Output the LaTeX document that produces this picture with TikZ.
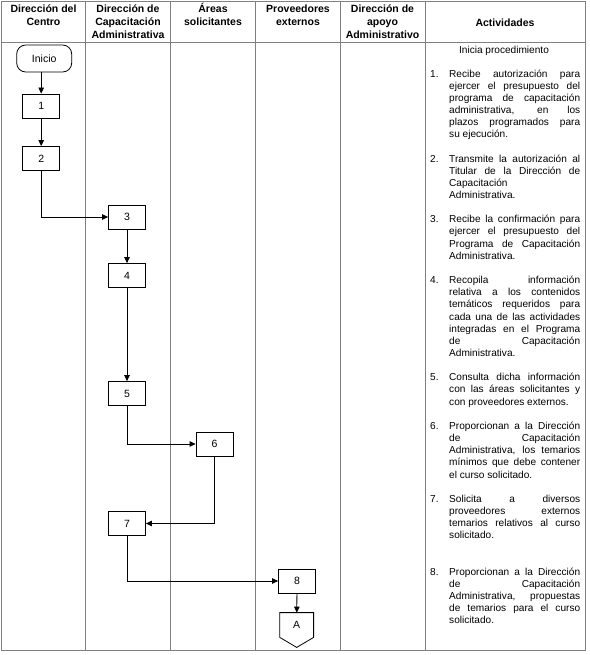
\documentclass[tikz,border=0pt]{standalone}
\usepackage{fontspec}
\setmainfont{Liberation Sans}
\usetikzlibrary{arrows.meta,calc}
\definecolor{rejilla}{RGB}{128,128,128}
\tolerance=10000
\hbadness=10000
\hfuzz=5pt

\begin{document}
\begin{tikzpicture}[x=1bp,y=-1bp,
    linea/.style={draw=rejilla,line width=0.9bp},
    hdr/.style={anchor=north,align=center,inner sep=0pt,font=\bfseries\fontsize{10.5bp}{12.8bp}\selectfont},
    caja/.style={draw,line width=0.8bp,minimum width=37bp,minimum height=24bp,inner sep=0pt,font=\fontsize{10.5bp}{12bp}\selectfont},
    inicio/.style={caja,rounded corners=9bp,minimum width=55bp,minimum height=27bp},
    conector/.style={caja,draw=none,minimum width=33bp},
    flecha/.style={line width=0.8bp,-{Triangle[length=6bp,width=5.5bp]}},
    act/.style={anchor=north west,inner sep=0pt,text width=150bp,align=justify,font=\fontsize{10.1bp}{12.15bp}\selectfont}]

    \useasboundingbox (0,0) rectangle (590,655);

    \draw[linea] (1.5,1) rectangle (585,650.5);
    \draw[linea] (1.5,42.7) -- (585,42.7);
    \foreach \x in {85.5,170.5,255.7,340,425} {
    \draw[linea] (\x,1) -- (\x,650.5);}

    \node[hdr] (hCentro) at (43.5,3.4) {\strut Dirección del\\Centro};
    \node[hdr] (hCapacitacion) at (128,3.4) {\strut Dirección de\\Capacitación\\Administrativa};
    \node[hdr] (hAreas) at (213,3.4) {\strut Áreas\\solicitantes};
    \node[hdr] (hProveedores) at (298,3.4) {\strut Proveedores\\externos};
    \node[hdr] (hApoyo) at (382.5,3.4) {\strut Dirección de\\apoyo\\Administrativo};
    \node[hdr,anchor=center] (hActividades) at (505,22.5) {Actividades};

    \node[inicio] (inicio) at (44.2,58.5) {Inicio};
    \node[caja] (b1) at (41.2,106) {1};
    \node[caja] (b2) at (41.2,158.5) {2};
    \node[caja] (b3) at (127,217) {3};
    \node[caja] (b4) at (127,275.5) {4};
    \node[caja] (b5) at (127,393.5) {5};
    \node[caja] (b6) at (214.5,444) {6};
    \node[caja] (b7) at (127,523.5) {7};
    \node[caja] (b8) at (297,581) {8};
    \node[conector] (A) at (296.7,625) {A};
    \draw[line width=0.8bp] (A.north west) -- (A.north east) -- (A.south east)
        -- ($(A.south)+(0,10)$) -- (A.south west) -- cycle;

    \draw[flecha] (inicio.south -| b1) -- (b1);
    \draw[flecha] (b1) -- (b2);
    \draw[flecha] (b2) |- (b3);
    \draw[flecha] (b3) -- (b4);
    \draw[flecha] (b4) -- (b5);
    \draw[flecha] (b5) |- (b6);
    \draw[flecha] (b6) |- (b7);
    \draw[flecha] (b7) |- (b8);
    \draw[flecha] (b8) -- (A);

    \node[act,anchor=north,text width=,align=center] (inicia) at (504,44.3) {\strut Inicia procedimiento};

    \foreach \n/\y/\txt in {
      1/73.3/{Recibe autorización para\linebreak ejercer el presupuesto del\linebreak programa de capacitación\linebreak administrativa, en los\linebreak plazos programados para\linebreak su ejecución.},
      2/158.4/{Transmite la autorización al\linebreak Titular de la Dirección de\linebreak Capacitación\newline Administrativa.},
      3/219.1/{Recibe la confirmación para\linebreak ejercer el presupuesto del\linebreak Programa de Capacitación\linebreak Administrativa.},
      4/279.9/{Recopila información\linebreak relativa a los contenidos\linebreak temáticos requeridos para\linebreak cada una de las actividades\linebreak integradas en el Programa\linebreak de Capacitación\linebreak Administrativa.},
      5/377.1/{Consulta dicha información\linebreak con las áreas solicitantes y\linebreak con proveedores externos.},
      6/425.7/{Proporcionan a la Dirección\linebreak de Capacitación\linebreak Administrativa, los temarios\linebreak mínimos que debe contener\linebreak el curso solicitado.},
      7/498.6/{Solicita a diversos\linebreak proveedores externos\linebreak temarios relativos al curso\linebreak solicitado.},
      8/571.5/{Proporcionan a la Dirección\linebreak de Capacitación\linebreak Administrativa, propuestas\linebreak de temarios para el curso\linebreak solicitado.}} {
    \node[act] (act\n) at (430,\y-5) {\noindent\hangindent=19bp\hangafter=1\strut\makebox[19bp][l]{\n.}\txt\par};}

\end{tikzpicture}
\end{document}
